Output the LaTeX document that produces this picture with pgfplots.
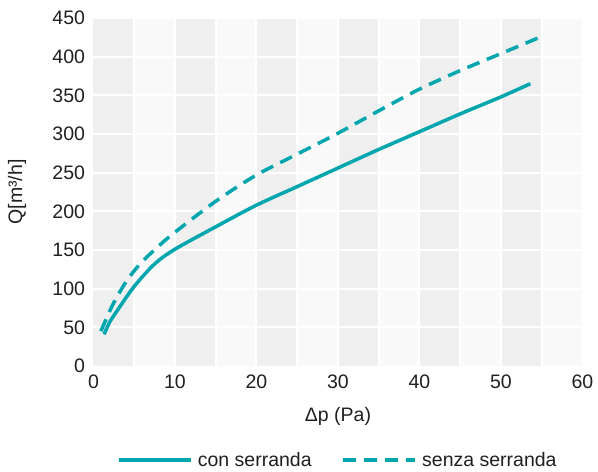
\documentclass[border=0pt]{standalone}
\usepackage{pgfplots}
\pgfplotsset{compat=1.18}
\usepackage{fontspec}
\setmainfont{Liberation Sans}
\definecolor{teal1}{RGB}{0,166,174}
\definecolor{bandA}{RGB}{239,239,239}
\definecolor{bandB}{RGB}{249,249,249}
\begin{document}
\begin{tikzpicture}[x=1pt,y=1pt]
\path (0,0) rectangle (598,468);
\begin{axis}[
  at={(93.5pt,102pt)}, anchor=south west,
  scale only axis, width=489pt, height=348pt,
  xmin=0, xmax=60, ymin=0, ymax=450,
  xtick={0,10,...,60}, ytick={0,50,...,450},
  axis line style={draw=none}, major tick length=0pt,
  /pgf/number format/assume math mode=true,
  tick label style={font=\fontsize{19.5}{22}\selectfont, text=black!88},
  xticklabel style={yshift=-5.5pt},
  yticklabel style={xshift=-5pt},
  xlabel={Δp (Pa)}, ylabel={Q[m³/h]},
  label style={font=\fontsize{19.5}{22}\selectfont, text=black!88},
  x label style={at={(axis description cs:0.5,0)}, anchor=center, yshift=-50pt},
  y label style={at={(axis description cs:0,0.5)}, anchor=center, yshift=76.5pt},
  legend columns=2,
  legend style={at={(axis description cs:0.5,0)}, anchor=center, yshift=-94pt,
    draw=none, fill=none, font=\fontsize{19.5}{22}\selectfont, text=black!88,
    /tikz/every odd column/.append style={column sep=3pt},
    /tikz/every even column/.append style={column sep=28pt}},
  legend image code/.code={\draw[#1] (0pt,0pt) -- (72pt,0pt);},
  clip=false,
]
\fill[bandB] (axis cs:0,0) rectangle (axis cs:60,450);
\foreach \a in {0,10,...,50} {
  \edef\tmp{\noexpand\fill[bandA] (axis cs:\a,0) rectangle (axis cs:\a+5,450);}\tmp
}
\foreach \a in {5,10,...,55} {
  \edef\tmp{\noexpand\draw[white, line width=2pt] (axis cs:\a,0) -- (axis cs:\a,450);}\tmp
}
\foreach \b in {50,100,...,450} {
  \edef\tmp{\noexpand\draw[white, line width=2pt] (axis cs:0,\b) -- (axis cs:60,\b);}\tmp
}
\addplot[teal1, line width=3.5pt, smooth] coordinates {
(1.3,41) (2,57) (3,73) (5,103) (7.5,132) (10,151) (15,180) (20,208) (25,232) (30,256) (35,280) (40,303) (45,326) (50,348) (53.6,365)};
\addlegendentry{con serranda}
\addplot[teal1, line width=3.5pt, smooth, dash pattern=on 13pt off 8pt] coordinates {
(0.9,45) (2.4,80) (4,109) (5.8,133) (8.2,157) (10,173) (15,213) (20,247) (25,274) (30,301) (35,330) (40,358) (45,382) (50,404) (55.2,427)};
\addlegendentry{senza serranda}
\end{axis}
\end{tikzpicture}
\end{document}
